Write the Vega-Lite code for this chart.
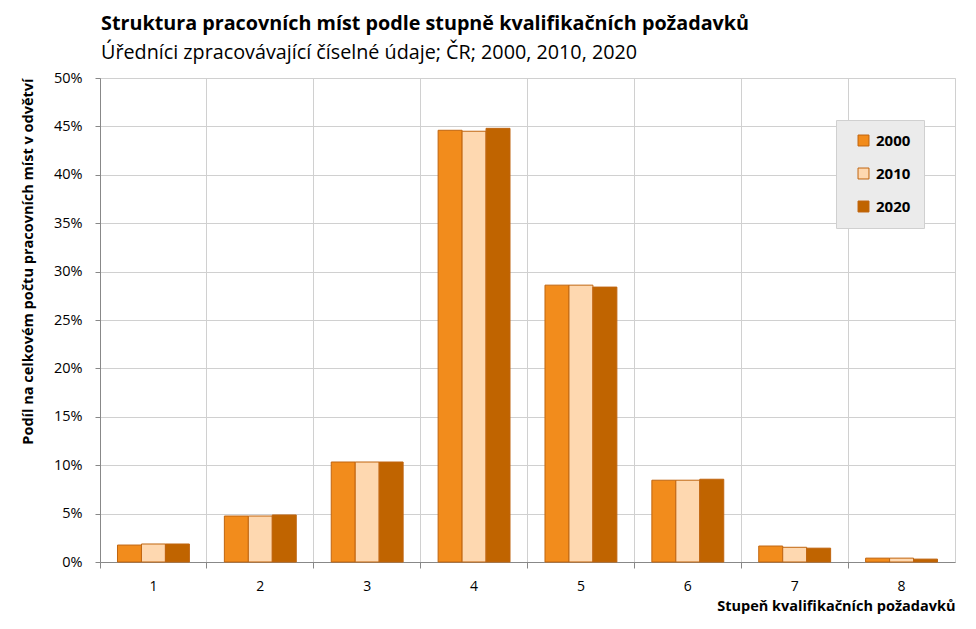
{
  "$schema": "https://vega.github.io/schema/vega-lite/v6.json",
  "autosize": {"type": "none"},
  "padding": {"left": 100, "top": 78, "right": 21, "bottom": 67},
  "width": 855,
  "height": 484,
  "background": "white",
  "title": {
    "text": "Struktura pracovních míst podle stupně kvalifikačních požadavků",
    "subtitle": "Úředníci zpracovávající číselné údaje; ČR; 2000, 2010, 2020",
    "anchor": "start",
    "frame": "group",
    "font": "Open Sans",
    "fontSize": 19.75,
    "fontWeight": "bold",
    "color": "#000000",
    "subtitleFont": "Open Sans",
    "subtitleFontSize": 19.75,
    "subtitleColor": "#000000",
    "subtitlePadding": 10,
    "offset": 7,
    "dx": 1
  },
  "data": {
    "values": [
      {"stupen": "1", "rok": "2000", "podil": 0.0175},
      {"stupen": "1", "rok": "2010", "podil": 0.0186},
      {"stupen": "1", "rok": "2020", "podil": 0.0186},
      {"stupen": "2", "rok": "2000", "podil": 0.0475},
      {"stupen": "2", "rok": "2010", "podil": 0.0475},
      {"stupen": "2", "rok": "2020", "podil": 0.0486},
      {"stupen": "3", "rok": "2000", "podil": 0.1033},
      {"stupen": "3", "rok": "2010", "podil": 0.1033},
      {"stupen": "3", "rok": "2020", "podil": 0.1033},
      {"stupen": "4", "rok": "2000", "podil": 0.4460},
      {"stupen": "4", "rok": "2010", "podil": 0.4450},
      {"stupen": "4", "rok": "2020", "podil": 0.4480},
      {"stupen": "5", "rok": "2000", "podil": 0.2860},
      {"stupen": "5", "rok": "2010", "podil": 0.2860},
      {"stupen": "5", "rok": "2020", "podil": 0.2840},
      {"stupen": "6", "rok": "2000", "podil": 0.0845},
      {"stupen": "6", "rok": "2010", "podil": 0.0845},
      {"stupen": "6", "rok": "2020", "podil": 0.0855},
      {"stupen": "7", "rok": "2000", "podil": 0.0165},
      {"stupen": "7", "rok": "2010", "podil": 0.0152},
      {"stupen": "7", "rok": "2020", "podil": 0.0143},
      {"stupen": "8", "rok": "2000", "podil": 0.0040},
      {"stupen": "8", "rok": "2010", "podil": 0.0040},
      {"stupen": "8", "rok": "2020", "podil": 0.0030}
    ]
  },
  "mark": {"type": "bar", "stroke": "#c0650f", "strokeWidth": 1},
  "encoding": {
    "x": {
      "field": "stupen",
      "type": "nominal",
      "scale": {"paddingInner": 0, "paddingOuter": 0},
      "axis": {
        "title": "Stupeň kvalifikačních požadavků",
        "titleAnchor": "end",
        "titleFont": "Open Sans",
        "titleFontSize": 14.5,
        "titleFontWeight": "bold",
        "titleColor": "#000000",
        "titlePadding": 6,
        "labelAngle": 0,
        "labelFont": "Open Sans",
        "labelFontSize": 14,
        "labelColor": "#000000",
        "labelPadding": 11,
        "bandPosition": 0,
        "grid": true,
        "gridColor": "#d0d0d0",
        "tickColor": "#888888",
        "tickSize": 6,
        "domainColor": "#888888"
      }
    },
    "xOffset": {
      "field": "rok",
      "type": "nominal",
      "scale": {"paddingInner": 0, "paddingOuter": 0.73}
    },
    "y": {
      "field": "podil",
      "type": "quantitative",
      "scale": {"domain": [0, 0.5]},
      "axis": {
        "title": "Podíl na celkovém počtu pracovních míst v odvětví",
        "titleAnchor": "end",
        "titleFont": "Open Sans",
        "titleFontSize": 14.5,
        "titleFontWeight": "bold",
        "titleColor": "#000000",
        "titlePadding": 18,
        "format": ".0%",
        "values": [0, 0.05, 0.1, 0.15, 0.2, 0.25, 0.3, 0.35, 0.4, 0.45, 0.5],
        "labelOverlap": false,
        "labelFont": "Open Sans",
        "labelFontSize": 14.5,
        "labelColor": "#000000",
        "labelPadding": 13,
        "tickColor": "#888888",
        "tickSize": 5,
        "domainColor": "#888888",
        "gridColor": "#d0d0d0"
      }
    },
    "color": {
      "field": "rok",
      "type": "nominal",
      "scale": {"domain": ["2000", "2010", "2020"], "range": ["#f28c1c", "#fed8b0", "#c06400"]},
      "legend": {
        "title": null,
        "orient": "none",
        "legendX": 736,
        "legendY": 42,
        "fillColor": "#ebebeb",
        "strokeColor": "#d0d0d0",
        "padding": 13,
        "rowPadding": 17,
        "symbolType": "square",
        "symbolSize": 120,
        "symbolOffset": 7,
        "symbolStrokeColor": "#c0650f",
        "symbolStrokeWidth": 1,
        "labelFont": "Open Sans",
        "labelFontSize": 15,
        "labelFontWeight": "bold",
        "labelColor": "#000000",
        "labelOffset": 5
      }
    }
  },
  "config": {
    "view": {"stroke": "#d0d0d0"}
  }
}
